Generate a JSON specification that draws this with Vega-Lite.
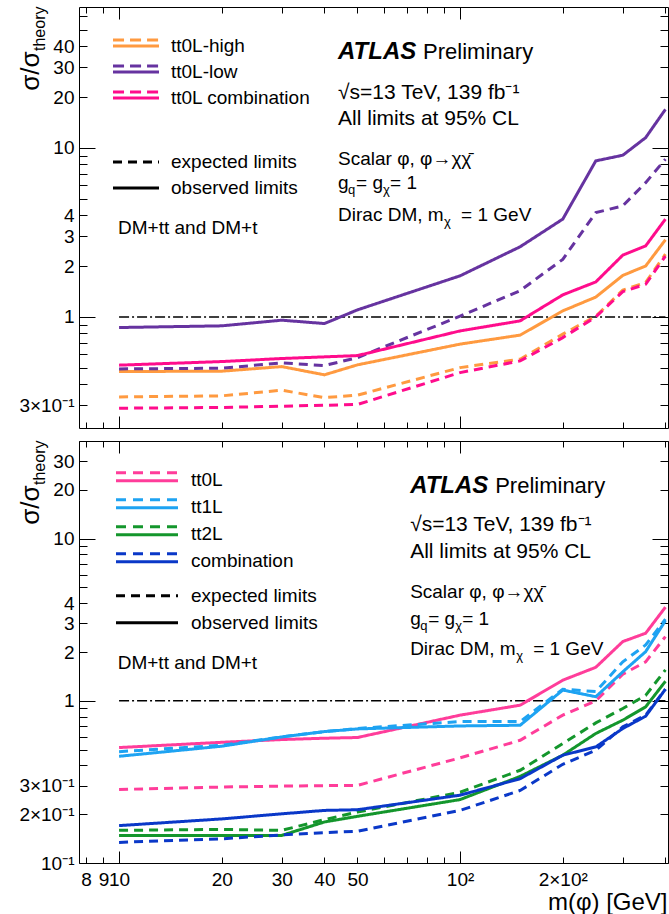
{
"$schema": "https://vega.github.io/schema/vega-lite/v6.json",
"padding": {"left": 16, "top": 5, "right": 0, "bottom": 0},
"spacing": 2,
"config": {
  "font": "Liberation Sans",
  "view": {"stroke": "black", "strokeWidth": 1},
  "axis": {"grid": false, "domain": false, "tickColor": "black", "tickWidth": 1, "labelColor": "black", "labelFontSize": 19, "labelFont": "Liberation Sans", "titleColor": "black", "titleFont": "Liberation Sans", "titleFontWeight": "normal", "labelFlush": false, "labelOverlap": false, "labelBound": false},
  "legend": {"labelFont": "Liberation Sans", "labelFontSize": 19, "labelColor": "black"}
},
"datasets": {
"top": [
{"mass":10,"limit":0.475,"channel":"tt0L-high","type":"observed limits"},
{"mass":20,"limit":0.477,"channel":"tt0L-high","type":"observed limits"},
{"mass":30,"limit":0.508,"channel":"tt0L-high","type":"observed limits"},
{"mass":40,"limit":0.454,"channel":"tt0L-high","type":"observed limits"},
{"mass":50,"limit":0.52,"channel":"tt0L-high","type":"observed limits"},
{"mass":100,"limit":0.69,"channel":"tt0L-high","type":"observed limits"},
{"mass":150,"limit":0.78,"channel":"tt0L-high","type":"observed limits"},
{"mass":200,"limit":1.085,"channel":"tt0L-high","type":"observed limits"},
{"mass":250,"limit":1.31,"channel":"tt0L-high","type":"observed limits"},
{"mass":300,"limit":1.76,"channel":"tt0L-high","type":"observed limits"},
{"mass":350,"limit":2.0,"channel":"tt0L-high","type":"observed limits"},
{"mass":400,"limit":2.86,"channel":"tt0L-high","type":"observed limits"},
{"mass":10,"limit":0.336,"channel":"tt0L-high","type":"expected limits"},
{"mass":20,"limit":0.341,"channel":"tt0L-high","type":"expected limits"},
{"mass":30,"limit":0.368,"channel":"tt0L-high","type":"expected limits"},
{"mass":40,"limit":0.333,"channel":"tt0L-high","type":"expected limits"},
{"mass":50,"limit":0.344,"channel":"tt0L-high","type":"expected limits"},
{"mass":100,"limit":0.501,"channel":"tt0L-high","type":"expected limits"},
{"mass":150,"limit":0.562,"channel":"tt0L-high","type":"expected limits"},
{"mass":200,"limit":0.79,"channel":"tt0L-high","type":"expected limits"},
{"mass":250,"limit":1.01,"channel":"tt0L-high","type":"expected limits"},
{"mass":300,"limit":1.44,"channel":"tt0L-high","type":"expected limits"},
{"mass":350,"limit":1.6,"channel":"tt0L-high","type":"expected limits"},
{"mass":400,"limit":2.35,"channel":"tt0L-high","type":"expected limits"},
{"mass":10,"limit":0.865,"channel":"tt0L-low","type":"observed limits"},
{"mass":20,"limit":0.885,"channel":"tt0L-low","type":"observed limits"},
{"mass":30,"limit":0.956,"channel":"tt0L-low","type":"observed limits"},
{"mass":40,"limit":0.913,"channel":"tt0L-low","type":"observed limits"},
{"mass":50,"limit":1.1,"channel":"tt0L-low","type":"observed limits"},
{"mass":100,"limit":1.75,"channel":"tt0L-low","type":"observed limits"},
{"mass":150,"limit":2.6,"channel":"tt0L-low","type":"observed limits"},
{"mass":200,"limit":3.79,"channel":"tt0L-low","type":"observed limits"},
{"mass":250,"limit":8.38,"channel":"tt0L-low","type":"observed limits"},
{"mass":300,"limit":9.05,"channel":"tt0L-low","type":"observed limits"},
{"mass":350,"limit":11.5,"channel":"tt0L-low","type":"observed limits"},
{"mass":400,"limit":16.9,"channel":"tt0L-low","type":"observed limits"},
{"mass":10,"limit":0.492,"channel":"tt0L-low","type":"expected limits"},
{"mass":20,"limit":0.497,"channel":"tt0L-low","type":"expected limits"},
{"mass":30,"limit":0.534,"channel":"tt0L-low","type":"expected limits"},
{"mass":40,"limit":0.515,"channel":"tt0L-low","type":"expected limits"},
{"mass":50,"limit":0.574,"channel":"tt0L-low","type":"expected limits"},
{"mass":100,"limit":1.01,"channel":"tt0L-low","type":"expected limits"},
{"mass":150,"limit":1.43,"channel":"tt0L-low","type":"expected limits"},
{"mass":200,"limit":2.19,"channel":"tt0L-low","type":"expected limits"},
{"mass":250,"limit":4.14,"channel":"tt0L-low","type":"expected limits"},
{"mass":300,"limit":4.54,"channel":"tt0L-low","type":"expected limits"},
{"mass":350,"limit":6.23,"channel":"tt0L-low","type":"expected limits"},
{"mass":400,"limit":8.58,"channel":"tt0L-low","type":"expected limits"},
{"mass":10,"limit":0.518,"channel":"tt0L combination","type":"observed limits"},
{"mass":20,"limit":0.544,"channel":"tt0L combination","type":"observed limits"},
{"mass":30,"limit":0.567,"channel":"tt0L combination","type":"observed limits"},
{"mass":40,"limit":0.58,"channel":"tt0L combination","type":"observed limits"},
{"mass":50,"limit":0.59,"channel":"tt0L combination","type":"observed limits"},
{"mass":100,"limit":0.826,"channel":"tt0L combination","type":"observed limits"},
{"mass":150,"limit":0.947,"channel":"tt0L combination","type":"observed limits"},
{"mass":200,"limit":1.35,"channel":"tt0L combination","type":"observed limits"},
{"mass":250,"limit":1.61,"channel":"tt0L combination","type":"observed limits"},
{"mass":300,"limit":2.32,"channel":"tt0L combination","type":"observed limits"},
{"mass":350,"limit":2.63,"channel":"tt0L combination","type":"observed limits"},
{"mass":400,"limit":3.79,"channel":"tt0L combination","type":"observed limits"},
{"mass":10,"limit":0.288,"channel":"tt0L combination","type":"expected limits"},
{"mass":20,"limit":0.291,"channel":"tt0L combination","type":"expected limits"},
{"mass":30,"limit":0.296,"channel":"tt0L combination","type":"expected limits"},
{"mass":40,"limit":0.3,"channel":"tt0L combination","type":"expected limits"},
{"mass":50,"limit":0.303,"channel":"tt0L combination","type":"expected limits"},
{"mass":100,"limit":0.468,"channel":"tt0L combination","type":"expected limits"},
{"mass":150,"limit":0.549,"channel":"tt0L combination","type":"expected limits"},
{"mass":200,"limit":0.754,"channel":"tt0L combination","type":"expected limits"},
{"mass":250,"limit":1.0,"channel":"tt0L combination","type":"expected limits"},
{"mass":300,"limit":1.41,"channel":"tt0L combination","type":"expected limits"},
{"mass":350,"limit":1.56,"channel":"tt0L combination","type":"expected limits"},
{"mass":400,"limit":2.29,"channel":"tt0L combination","type":"expected limits"}
],
"bottom": [
{"mass":10,"limit":0.515,"channel":"tt0L","type":"observed limits"},
{"mass":20,"limit":0.555,"channel":"tt0L","type":"observed limits"},
{"mass":30,"limit":0.577,"channel":"tt0L","type":"observed limits"},
{"mass":40,"limit":0.588,"channel":"tt0L","type":"observed limits"},
{"mass":50,"limit":0.594,"channel":"tt0L","type":"observed limits"},
{"mass":100,"limit":0.816,"channel":"tt0L","type":"observed limits"},
{"mass":150,"limit":0.94,"channel":"tt0L","type":"observed limits"},
{"mass":200,"limit":1.34,"channel":"tt0L","type":"observed limits"},
{"mass":250,"limit":1.61,"channel":"tt0L","type":"observed limits"},
{"mass":300,"limit":2.32,"channel":"tt0L","type":"observed limits"},
{"mass":350,"limit":2.61,"channel":"tt0L","type":"observed limits"},
{"mass":400,"limit":3.78,"channel":"tt0L","type":"observed limits"},
{"mass":10,"limit":0.284,"channel":"tt0L","type":"expected limits"},
{"mass":20,"limit":0.294,"channel":"tt0L","type":"expected limits"},
{"mass":30,"limit":0.298,"channel":"tt0L","type":"expected limits"},
{"mass":40,"limit":0.3,"channel":"tt0L","type":"expected limits"},
{"mass":50,"limit":0.301,"channel":"tt0L","type":"expected limits"},
{"mass":100,"limit":0.445,"channel":"tt0L","type":"expected limits"},
{"mass":150,"limit":0.571,"channel":"tt0L","type":"expected limits"},
{"mass":200,"limit":0.816,"channel":"tt0L","type":"expected limits"},
{"mass":250,"limit":1.0,"channel":"tt0L","type":"expected limits"},
{"mass":300,"limit":1.46,"channel":"tt0L","type":"expected limits"},
{"mass":350,"limit":1.74,"channel":"tt0L","type":"expected limits"},
{"mass":400,"limit":2.49,"channel":"tt0L","type":"expected limits"},
{"mass":10,"limit":0.455,"channel":"tt1L","type":"observed limits"},
{"mass":20,"limit":0.525,"channel":"tt1L","type":"observed limits"},
{"mass":30,"limit":0.599,"channel":"tt1L","type":"observed limits"},
{"mass":40,"limit":0.646,"channel":"tt1L","type":"observed limits"},
{"mass":50,"limit":0.671,"channel":"tt1L","type":"observed limits"},
{"mass":100,"limit":0.7,"channel":"tt1L","type":"observed limits"},
{"mass":150,"limit":0.707,"channel":"tt1L","type":"observed limits"},
{"mass":200,"limit":1.165,"channel":"tt1L","type":"observed limits"},
{"mass":250,"limit":1.06,"channel":"tt1L","type":"observed limits"},
{"mass":300,"limit":1.51,"channel":"tt1L","type":"observed limits"},
{"mass":350,"limit":2.01,"channel":"tt1L","type":"observed limits"},
{"mass":400,"limit":3.12,"channel":"tt1L","type":"observed limits"},
{"mass":10,"limit":0.486,"channel":"tt1L","type":"expected limits"},
{"mass":20,"limit":0.532,"channel":"tt1L","type":"expected limits"},
{"mass":30,"limit":0.6,"channel":"tt1L","type":"expected limits"},
{"mass":40,"limit":0.645,"channel":"tt1L","type":"expected limits"},
{"mass":50,"limit":0.675,"channel":"tt1L","type":"expected limits"},
{"mass":100,"limit":0.745,"channel":"tt1L","type":"expected limits"},
{"mass":150,"limit":0.745,"channel":"tt1L","type":"expected limits"},
{"mass":200,"limit":1.18,"channel":"tt1L","type":"expected limits"},
{"mass":250,"limit":1.14,"channel":"tt1L","type":"expected limits"},
{"mass":300,"limit":1.74,"channel":"tt1L","type":"expected limits"},
{"mass":350,"limit":2.21,"channel":"tt1L","type":"expected limits"},
{"mass":400,"limit":3.19,"channel":"tt1L","type":"expected limits"},
{"mass":10,"limit":0.148,"channel":"tt2L","type":"observed limits"},
{"mass":20,"limit":0.148,"channel":"tt2L","type":"observed limits"},
{"mass":30,"limit":0.148,"channel":"tt2L","type":"observed limits"},
{"mass":40,"limit":0.179,"channel":"tt2L","type":"observed limits"},
{"mass":50,"limit":0.194,"channel":"tt2L","type":"observed limits"},
{"mass":100,"limit":0.246,"channel":"tt2L","type":"observed limits"},
{"mass":150,"limit":0.342,"channel":"tt2L","type":"observed limits"},
{"mass":200,"limit":0.462,"channel":"tt2L","type":"observed limits"},
{"mass":250,"limit":0.629,"channel":"tt2L","type":"observed limits"},
{"mass":300,"limit":0.76,"channel":"tt2L","type":"observed limits"},
{"mass":350,"limit":0.918,"channel":"tt2L","type":"observed limits"},
{"mass":400,"limit":1.32,"channel":"tt2L","type":"observed limits"},
{"mass":10,"limit":0.159,"channel":"tt2L","type":"expected limits"},
{"mass":20,"limit":0.161,"channel":"tt2L","type":"expected limits"},
{"mass":30,"limit":0.159,"channel":"tt2L","type":"expected limits"},
{"mass":40,"limit":0.185,"channel":"tt2L","type":"expected limits"},
{"mass":50,"limit":0.206,"channel":"tt2L","type":"expected limits"},
{"mass":100,"limit":0.273,"channel":"tt2L","type":"expected limits"},
{"mass":150,"limit":0.373,"channel":"tt2L","type":"expected limits"},
{"mass":200,"limit":0.545,"channel":"tt2L","type":"expected limits"},
{"mass":250,"limit":0.731,"channel":"tt2L","type":"expected limits"},
{"mass":300,"limit":0.897,"channel":"tt2L","type":"expected limits"},
{"mass":350,"limit":1.08,"channel":"tt2L","type":"expected limits"},
{"mass":400,"limit":1.55,"channel":"tt2L","type":"expected limits"},
{"mass":10,"limit":0.17,"channel":"combination","type":"observed limits"},
{"mass":20,"limit":0.187,"channel":"combination","type":"observed limits"},
{"mass":30,"limit":0.201,"channel":"combination","type":"observed limits"},
{"mass":40,"limit":0.211,"channel":"combination","type":"observed limits"},
{"mass":50,"limit":0.213,"channel":"combination","type":"observed limits"},
{"mass":100,"limit":0.262,"channel":"combination","type":"observed limits"},
{"mass":150,"limit":0.331,"channel":"combination","type":"observed limits"},
{"mass":200,"limit":0.462,"channel":"combination","type":"observed limits"},
{"mass":250,"limit":0.52,"channel":"combination","type":"observed limits"},
{"mass":300,"limit":0.675,"channel":"combination","type":"observed limits"},
{"mass":350,"limit":0.804,"channel":"combination","type":"observed limits"},
{"mass":400,"limit":1.18,"channel":"combination","type":"observed limits"},
{"mass":10,"limit":0.134,"channel":"combination","type":"expected limits"},
{"mass":20,"limit":0.141,"channel":"combination","type":"expected limits"},
{"mass":30,"limit":0.149,"channel":"combination","type":"expected limits"},
{"mass":40,"limit":0.154,"channel":"combination","type":"expected limits"},
{"mass":50,"limit":0.157,"channel":"combination","type":"expected limits"},
{"mass":100,"limit":0.211,"channel":"combination","type":"expected limits"},
{"mass":150,"limit":0.28,"channel":"combination","type":"expected limits"},
{"mass":200,"limit":0.406,"channel":"combination","type":"expected limits"},
{"mass":250,"limit":0.496,"channel":"combination","type":"expected limits"},
{"mass":300,"limit":0.691,"channel":"combination","type":"expected limits"},
{"mass":350,"limit":0.816,"channel":"combination","type":"expected limits"},
{"mass":400,"limit":1.18,"channel":"combination","type":"expected limits"}
]
},
"resolve": {"scale": {"x": "independent", "y": "independent", "color": "independent", "strokeDash": "independent"}},
"vconcat": [
{
  "width": 589, "height": 421,
  "data": {"values": [{}]},
  "resolve": {"axis": {"x": "independent", "y": "independent"}},
  "layer": [
    {"mark": {"type": "rule", "color": "black", "strokeWidth": 1.5, "strokeDash": [10, 3, 2, 3]},
     "encoding": {
       "x": {"datum": 10, "type": "quantitative", "scale": {"type": "log", "domain": [7.63, 407], "nice": false},
             "axis": {"orient": "bottom", "values": [8,9,10,20,30,40,50,60,70,80,90,100,200,300,400], "labels": false, "title": null,
                      "tickSize": {"condition": {"test": "datum.value == 10 || datum.value == 100", "value": -12}, "value": -6}}},
       "x2": {"datum": 400},
       "y": {"datum": 1, "type": "quantitative", "scale": {"type": "log", "domain": [0.22, 68.2], "nice": false},
             "axis": {"orient": "left", "values": [0.3,0.4,0.5,0.6,0.7,0.8,0.9,1,2,3,4,5,6,7,8,9,10,20,30,40,50,60],
                      "labelExpr": "datum.value == 0.3 ? '3×10⁻¹' : (indexof([1,2,3,4,10,20,30,40], datum.value) >= 0 ? '' + datum.value : '')",
                      "tickSize": {"condition": {"test": "datum.value == 0.1 || datum.value == 1 || datum.value == 10", "value": -16}, "value": -8},
                      "labelPadding": {"condition": {"test": "datum.value == 0.1 || datum.value == 1 || datum.value == 10", "value": 21}, "value": 13},
                      "title": "σ/σ", "titleFontSize": 26, "titleAngle": -90, "titleAlign": "right", "titleBaseline": "alphabetic", "titleX": -41, "titleY": 44}}
     }},
    {"data": {"name": "top"},
     "mark": {"type": "line", "strokeWidth": 3},
     "encoding": {
       "x": {"field": "mass", "type": "quantitative", "scale": {"type": "log", "domain": [7.63, 407], "nice": false},
             "axis": {"orient": "top", "values": [8,9,10,20,30,40,50,60,70,80,90,100,200,300,400], "labels": false, "title": null,
                      "tickSize": {"condition": {"test": "datum.value == 10 || datum.value == 100", "value": -12}, "value": -6}}},
       "y": {"field": "limit", "type": "quantitative", "scale": {"type": "log", "domain": [0.22, 68.2], "nice": false},
             "axis": {"orient": "right", "values": [0.3,0.4,0.5,0.6,0.7,0.8,0.9,1,2,3,4,5,6,7,8,9,10,20,30,40,50,60], "labels": false, "title": null,
                      "tickSize": {"condition": {"test": "datum.value == 0.1 || datum.value == 1 || datum.value == 10", "value": -16}, "value": -8}}},
       "color": {"field": "channel", "type": "nominal",
                 "scale": {"domain": ["tt0L-high", "tt0L-low", "tt0L combination"], "range": ["#ff9a40", "#6633a0", "#ff0c8c"]},
                 "legend": {"orient": "none", "legendX": 32.5, "legendY": 26, "title": null,
                            "symbolType": "M-1,-0.26H-0.52M-0.26,-0.26H0.22M0.48,-0.26H0.96M-1,0H1",
                            "symbolSize": 2116, "symbolStrokeWidth": 3, "labelOffset": 10.5, "clipHeight": 26, "rowPadding": 0, "padding": 0, "labelFontSize": 19, "labelLimit": 400}},
       "strokeDash": {"field": "type", "type": "nominal",
                      "scale": {"domain": ["expected limits", "observed limits"], "range": [[9, 6], [1, 0]]},
                      "legend": {"orient": "none", "legendX": 32.5, "legendY": 142, "title": null, "symbolType": "stroke",
                                 "symbolSize": 2116, "symbolStrokeWidth": 3, "symbolStrokeColor": "black", "labelOffset": 10.5, "clipHeight": 26, "rowPadding": 0, "padding": 0, "labelFontSize": 19, "labelLimit": 400}}
     }},
    {"mark": {"type": "text", "text": "DM+tt and DM+t", "align": "left", "baseline": "alphabetic", "fontSize": 19, "color": "black"},
     "encoding": {
       "x": {"datum": 9.93, "type": "quantitative", "scale": {"type": "log", "domain": [7.63, 407], "nice": false}, "axis": null},
       "y": {"datum": 3.09, "type": "quantitative", "scale": {"type": "log", "domain": [0.22, 68.2], "nice": false},
             "axis": {"orient": "left", "labels": false, "ticks": false, "domain": false, "title": "theory", "titleFontSize": 16, "titleAngle": -90, "titleAlign": "right", "titleBaseline": "alphabetic", "titleX": -35, "titleY": -1}}
     }},
    {"mark": {"type": "text", "text": "ATLAS", "align": "left", "baseline": "alphabetic", "fontSize": 24, "fontWeight": "bold", "fontStyle": "italic", "color": "black"},
     "encoding": {"x": {"datum": 43.87, "type": "quantitative", "scale": {"type": "log", "domain": [7.63, 407], "nice": false}, "axis": null},
                  "y": {"datum": 33.5, "type": "quantitative", "scale": {"type": "log", "domain": [0.22, 68.2], "nice": false}, "axis": null}}},
    {"mark": {"type": "text", "text": "Preliminary", "align": "left", "baseline": "alphabetic", "fontSize": 22, "color": "black"},
     "encoding": {"x": {"datum": 77.9, "type": "quantitative", "scale": {"type": "log", "domain": [7.63, 407], "nice": false}, "axis": null},
                  "y": {"datum": 33.5, "type": "quantitative", "scale": {"type": "log", "domain": [0.22, 68.2], "nice": false}, "axis": null}}},
    {"mark": {"type": "text", "text": "√s=13 TeV, 139 fb⁻¹", "align": "left", "baseline": "alphabetic", "fontSize": 21, "color": "black"},
     "encoding": {"x": {"datum": 43.87, "type": "quantitative", "scale": {"type": "log", "domain": [7.63, 407], "nice": false}, "axis": null},
                  "y": {"datum": 19.4, "type": "quantitative", "scale": {"type": "log", "domain": [0.22, 68.2], "nice": false}, "axis": null}}},
    {"mark": {"type": "text", "text": "All limits at 95% CL", "align": "left", "baseline": "alphabetic", "fontSize": 21, "color": "black"},
     "encoding": {"x": {"datum": 43.87, "type": "quantitative", "scale": {"type": "log", "domain": [7.63, 407], "nice": false}, "axis": null},
                  "y": {"datum": 13.68, "type": "quantitative", "scale": {"type": "log", "domain": [0.22, 68.2], "nice": false}, "axis": null}}},
    {"mark": {"type": "text", "text": "Scalar φ, φ→χχ̄", "align": "left", "baseline": "alphabetic", "fontSize": 19, "color": "black"},
     "encoding": {"x": {"datum": 43.87, "type": "quantitative", "scale": {"type": "log", "domain": [7.63, 407], "nice": false}, "axis": null},
                  "y": {"datum": 7.93, "type": "quantitative", "scale": {"type": "log", "domain": [0.22, 68.2], "nice": false}, "axis": null}}},
    {"mark": {"type": "text", "text": "g", "align": "left", "baseline": "alphabetic", "fontSize": 19, "color": "black"},
     "encoding": {"x": {"datum": 43.87, "type": "quantitative", "scale": {"type": "log", "domain": [7.63, 407], "nice": false}, "axis": null},
                  "y": {"datum": 5.69, "type": "quantitative", "scale": {"type": "log", "domain": [0.22, 68.2], "nice": false}, "axis": null}}},
    {"mark": {"type": "text", "text": "q", "align": "left", "baseline": "alphabetic", "fontSize": 13, "dx": 10, "dy": 5, "color": "black"},
     "encoding": {"x": {"datum": 43.87, "type": "quantitative", "scale": {"type": "log", "domain": [7.63, 407], "nice": false}, "axis": null},
                  "y": {"datum": 5.69, "type": "quantitative", "scale": {"type": "log", "domain": [0.22, 68.2], "nice": false}, "axis": null}}},
    {"mark": {"type": "text", "text": "= g", "align": "left", "baseline": "alphabetic", "fontSize": 19, "dx": 18, "color": "black"},
     "encoding": {"x": {"datum": 43.87, "type": "quantitative", "scale": {"type": "log", "domain": [7.63, 407], "nice": false}, "axis": null},
                  "y": {"datum": 5.69, "type": "quantitative", "scale": {"type": "log", "domain": [0.22, 68.2], "nice": false}, "axis": null}}},
    {"mark": {"type": "text", "text": "χ", "align": "left", "baseline": "alphabetic", "fontSize": 13, "dx": 45, "dy": 5, "color": "black"},
     "encoding": {"x": {"datum": 43.87, "type": "quantitative", "scale": {"type": "log", "domain": [7.63, 407], "nice": false}, "axis": null},
                  "y": {"datum": 5.69, "type": "quantitative", "scale": {"type": "log", "domain": [0.22, 68.2], "nice": false}, "axis": null}}},
    {"mark": {"type": "text", "text": "= 1", "align": "left", "baseline": "alphabetic", "fontSize": 19, "dx": 52, "color": "black"},
     "encoding": {"x": {"datum": 43.87, "type": "quantitative", "scale": {"type": "log", "domain": [7.63, 407], "nice": false}, "axis": null},
                  "y": {"datum": 5.69, "type": "quantitative", "scale": {"type": "log", "domain": [0.22, 68.2], "nice": false}, "axis": null}}},
    {"mark": {"type": "text", "text": "Dirac DM, m", "align": "left", "baseline": "alphabetic", "fontSize": 19, "color": "black"},
     "encoding": {"x": {"datum": 43.87, "type": "quantitative", "scale": {"type": "log", "domain": [7.63, 407], "nice": false}, "axis": null},
                  "y": {"datum": 3.70, "type": "quantitative", "scale": {"type": "log", "domain": [0.22, 68.2], "nice": false}, "axis": null}}},
    {"mark": {"type": "text", "text": "χ", "align": "left", "baseline": "alphabetic", "fontSize": 13, "dx": 106, "dy": 5, "color": "black"},
     "encoding": {"x": {"datum": 43.87, "type": "quantitative", "scale": {"type": "log", "domain": [7.63, 407], "nice": false}, "axis": null},
                  "y": {"datum": 3.70, "type": "quantitative", "scale": {"type": "log", "domain": [0.22, 68.2], "nice": false}, "axis": null}}},
    {"mark": {"type": "text", "text": "= 1 GeV", "align": "left", "baseline": "alphabetic", "fontSize": 19, "dx": 123, "color": "black"},
     "encoding": {"x": {"datum": 43.87, "type": "quantitative", "scale": {"type": "log", "domain": [7.63, 407], "nice": false}, "axis": null},
                  "y": {"datum": 3.70, "type": "quantitative", "scale": {"type": "log", "domain": [0.22, 68.2], "nice": false}, "axis": null}}}
  ]
},
{
  "width": 589, "height": 422,
  "data": {"values": [{}]},
  "resolve": {"axis": {"x": "independent", "y": "independent"}},
  "layer": [
    {"mark": {"type": "rule", "color": "black", "strokeWidth": 1.5, "strokeDash": [10, 3, 2, 3]},
     "encoding": {
       "x": {"datum": 10, "type": "quantitative", "scale": {"type": "log", "domain": [7.63, 407], "nice": false},
             "axis": {"orient": "bottom", "values": [8,9,10,20,30,40,50,60,70,80,90,100,200,300,400],
                      "labelExpr": "datum.value == 100 ? '10²' : datum.value == 200 ? '2×10²' : (datum.value <= 50 ? '' + datum.value : '')",
                      "labelBaseline": "top", "labelAlign": "center",
                      "tickSize": {"condition": {"test": "datum.value == 10 || datum.value == 100", "value": -12}, "value": -6},
                      "labelPadding": {"condition": {"test": "datum.value == 10 || datum.value == 100", "value": 19}, "value": 13},
                      "title": "m(φ) [GeV]", "titleFontSize": 24, "titleAnchor": "end", "titleAlign": "right", "titleBaseline": "alphabetic", "titleX": 588, "titleY": 46}},
       "x2": {"datum": 400},
       "y": {"datum": 1, "type": "quantitative", "scale": {"type": "log", "domain": [0.1, 40], "nice": false},
             "axis": {"orient": "left", "values": [0.1,0.2,0.3,0.4,0.5,0.6,0.7,0.8,0.9,1,2,3,4,5,6,7,8,9,10,20,30,40],
                      "labelExpr": "datum.value == 0.1 ? '10⁻¹' : datum.value == 0.2 ? '2×10⁻¹' : datum.value == 0.3 ? '3×10⁻¹' : (indexof([1,2,3,4,10,20,30], datum.value) >= 0 ? '' + datum.value : '')",
                      "tickSize": {"condition": {"test": "datum.value == 0.1 || datum.value == 1 || datum.value == 10", "value": -16}, "value": -8},
                      "labelPadding": {"condition": {"test": "datum.value == 0.1 || datum.value == 1 || datum.value == 10", "value": 21}, "value": 13},
                      "title": "σ/σ", "titleFontSize": 26, "titleAngle": -90, "titleAlign": "right", "titleBaseline": "alphabetic", "titleX": -41, "titleY": 44}}
     }},
    {"data": {"name": "bottom"},
     "mark": {"type": "line", "strokeWidth": 3},
     "encoding": {
       "x": {"field": "mass", "type": "quantitative", "scale": {"type": "log", "domain": [7.63, 407], "nice": false},
             "axis": {"orient": "top", "values": [8,9,10,20,30,40,50,60,70,80,90,100,200,300,400], "labels": false, "title": null,
                      "tickSize": {"condition": {"test": "datum.value == 10 || datum.value == 100", "value": -12}, "value": -6}}},
       "y": {"field": "limit", "type": "quantitative", "scale": {"type": "log", "domain": [0.1, 40], "nice": false},
             "axis": {"orient": "right", "values": [0.1,0.2,0.3,0.4,0.5,0.6,0.7,0.8,0.9,1,2,3,4,5,6,7,8,9,10,20,30,40], "labels": false, "title": null,
                      "tickSize": {"condition": {"test": "datum.value == 0.1 || datum.value == 1 || datum.value == 10", "value": -16}, "value": -8}}},
       "color": {"field": "channel", "type": "nominal",
                 "scale": {"domain": ["tt0L", "tt1L", "tt2L", "combination"], "range": ["#ff3d9a", "#1ea3f2", "#14962c", "#0a38c8"]},
                 "legend": {"orient": "none", "legendX": 35.5, "legendY": 25.7, "title": null,
                            "symbolType": "M-1,-0.235H-0.677M-0.452,-0.235H-0.129M0.097,-0.235H0.419M0.645,-0.235H0.968M-1,0.02H1",
                            "symbolSize": 3844, "symbolStrokeWidth": 3, "labelOffset": 11.5, "clipHeight": 26.67, "rowPadding": 0, "padding": 0, "labelFontSize": 19, "labelLimit": 400}},
       "strokeDash": {"field": "type", "type": "nominal",
                      "scale": {"domain": ["expected limits", "observed limits"], "range": [[9, 6], [1, 0]]},
                      "legend": {"orient": "none", "legendX": 35.5, "legendY": 141.3, "title": null, "symbolType": "stroke",
                                 "symbolSize": 3844, "symbolStrokeWidth": 3, "symbolStrokeColor": "black", "labelOffset": 11.5, "clipHeight": 26.67, "rowPadding": 0, "padding": 0, "labelFontSize": 19, "labelLimit": 400}}
     }},
    {"mark": {"type": "text", "text": "DM+tt and DM+t", "align": "left", "baseline": "alphabetic", "fontSize": 19, "color": "black"},
     "encoding": {
       "x": {"datum": 9.91, "type": "quantitative", "scale": {"type": "log", "domain": [7.63, 407], "nice": false}, "axis": null},
       "y": {"datum": 1.564, "type": "quantitative", "scale": {"type": "log", "domain": [0.1, 40], "nice": false},
             "axis": {"orient": "left", "labels": false, "ticks": false, "domain": false, "title": "theory", "titleFontSize": 16, "titleAngle": -90, "titleAlign": "right", "titleBaseline": "alphabetic", "titleX": -35, "titleY": -1}}
     }},
    {"mark": {"type": "text", "text": "ATLAS", "align": "left", "baseline": "alphabetic", "fontSize": 24, "fontWeight": "bold", "fontStyle": "italic", "color": "black"},
     "encoding": {"x": {"datum": 71.36, "type": "quantitative", "scale": {"type": "log", "domain": [7.63, 407], "nice": false}, "axis": null},
                  "y": {"datum": 19.17, "type": "quantitative", "scale": {"type": "log", "domain": [0.1, 40], "nice": false}, "axis": null}}},
    {"mark": {"type": "text", "text": "Preliminary", "align": "left", "baseline": "alphabetic", "fontSize": 22, "color": "black"},
     "encoding": {"x": {"datum": 126.7, "type": "quantitative", "scale": {"type": "log", "domain": [7.63, 407], "nice": false}, "axis": null},
                  "y": {"datum": 19.17, "type": "quantitative", "scale": {"type": "log", "domain": [0.1, 40], "nice": false}, "axis": null}}},
    {"mark": {"type": "text", "text": "√s=13 TeV, 139 fb⁻¹", "align": "left", "baseline": "alphabetic", "fontSize": 21, "color": "black"},
     "encoding": {"x": {"datum": 71.36, "type": "quantitative", "scale": {"type": "log", "domain": [7.63, 407], "nice": false}, "axis": null},
                  "y": {"datum": 11.09, "type": "quantitative", "scale": {"type": "log", "domain": [0.1, 40], "nice": false}, "axis": null}}},
    {"mark": {"type": "text", "text": "All limits at 95% CL", "align": "left", "baseline": "alphabetic", "fontSize": 21, "color": "black"},
     "encoding": {"x": {"datum": 71.36, "type": "quantitative", "scale": {"type": "log", "domain": [7.63, 407], "nice": false}, "axis": null},
                  "y": {"datum": 7.6, "type": "quantitative", "scale": {"type": "log", "domain": [0.1, 40], "nice": false}, "axis": null}}},
    {"mark": {"type": "text", "text": "Scalar φ, φ→χχ̄", "align": "left", "baseline": "alphabetic", "fontSize": 19, "color": "black"},
     "encoding": {"x": {"datum": 71.36, "type": "quantitative", "scale": {"type": "log", "domain": [7.63, 407], "nice": false}, "axis": null},
                  "y": {"datum": 4.30, "type": "quantitative", "scale": {"type": "log", "domain": [0.1, 40], "nice": false}, "axis": null}}},
    {"mark": {"type": "text", "text": "g", "align": "left", "baseline": "alphabetic", "fontSize": 19, "color": "black"},
     "encoding": {"x": {"datum": 71.36, "type": "quantitative", "scale": {"type": "log", "domain": [7.63, 407], "nice": false}, "axis": null},
                  "y": {"datum": 2.94, "type": "quantitative", "scale": {"type": "log", "domain": [0.1, 40], "nice": false}, "axis": null}}},
    {"mark": {"type": "text", "text": "q", "align": "left", "baseline": "alphabetic", "fontSize": 13, "dx": 10, "dy": 5, "color": "black"},
     "encoding": {"x": {"datum": 71.36, "type": "quantitative", "scale": {"type": "log", "domain": [7.63, 407], "nice": false}, "axis": null},
                  "y": {"datum": 2.94, "type": "quantitative", "scale": {"type": "log", "domain": [0.1, 40], "nice": false}, "axis": null}}},
    {"mark": {"type": "text", "text": "= g", "align": "left", "baseline": "alphabetic", "fontSize": 19, "dx": 18, "color": "black"},
     "encoding": {"x": {"datum": 71.36, "type": "quantitative", "scale": {"type": "log", "domain": [7.63, 407], "nice": false}, "axis": null},
                  "y": {"datum": 2.94, "type": "quantitative", "scale": {"type": "log", "domain": [0.1, 40], "nice": false}, "axis": null}}},
    {"mark": {"type": "text", "text": "χ", "align": "left", "baseline": "alphabetic", "fontSize": 13, "dx": 45, "dy": 5, "color": "black"},
     "encoding": {"x": {"datum": 71.36, "type": "quantitative", "scale": {"type": "log", "domain": [7.63, 407], "nice": false}, "axis": null},
                  "y": {"datum": 2.94, "type": "quantitative", "scale": {"type": "log", "domain": [0.1, 40], "nice": false}, "axis": null}}},
    {"mark": {"type": "text", "text": "= 1", "align": "left", "baseline": "alphabetic", "fontSize": 19, "dx": 52, "color": "black"},
     "encoding": {"x": {"datum": 71.36, "type": "quantitative", "scale": {"type": "log", "domain": [7.63, 407], "nice": false}, "axis": null},
                  "y": {"datum": 2.94, "type": "quantitative", "scale": {"type": "log", "domain": [0.1, 40], "nice": false}, "axis": null}}},
    {"mark": {"type": "text", "text": "Dirac DM, m", "align": "left", "baseline": "alphabetic", "fontSize": 19, "color": "black"},
     "encoding": {"x": {"datum": 71.36, "type": "quantitative", "scale": {"type": "log", "domain": [7.63, 407], "nice": false}, "axis": null},
                  "y": {"datum": 1.917, "type": "quantitative", "scale": {"type": "log", "domain": [0.1, 40], "nice": false}, "axis": null}}},
    {"mark": {"type": "text", "text": "χ", "align": "left", "baseline": "alphabetic", "fontSize": 13, "dx": 106, "dy": 5, "color": "black"},
     "encoding": {"x": {"datum": 71.36, "type": "quantitative", "scale": {"type": "log", "domain": [7.63, 407], "nice": false}, "axis": null},
                  "y": {"datum": 1.917, "type": "quantitative", "scale": {"type": "log", "domain": [0.1, 40], "nice": false}, "axis": null}}},
    {"mark": {"type": "text", "text": "= 1 GeV", "align": "left", "baseline": "alphabetic", "fontSize": 19, "dx": 123, "color": "black"},
     "encoding": {"x": {"datum": 71.36, "type": "quantitative", "scale": {"type": "log", "domain": [7.63, 407], "nice": false}, "axis": null},
                  "y": {"datum": 1.917, "type": "quantitative", "scale": {"type": "log", "domain": [0.1, 40], "nice": false}, "axis": null}}}
  ]
}
]
}
